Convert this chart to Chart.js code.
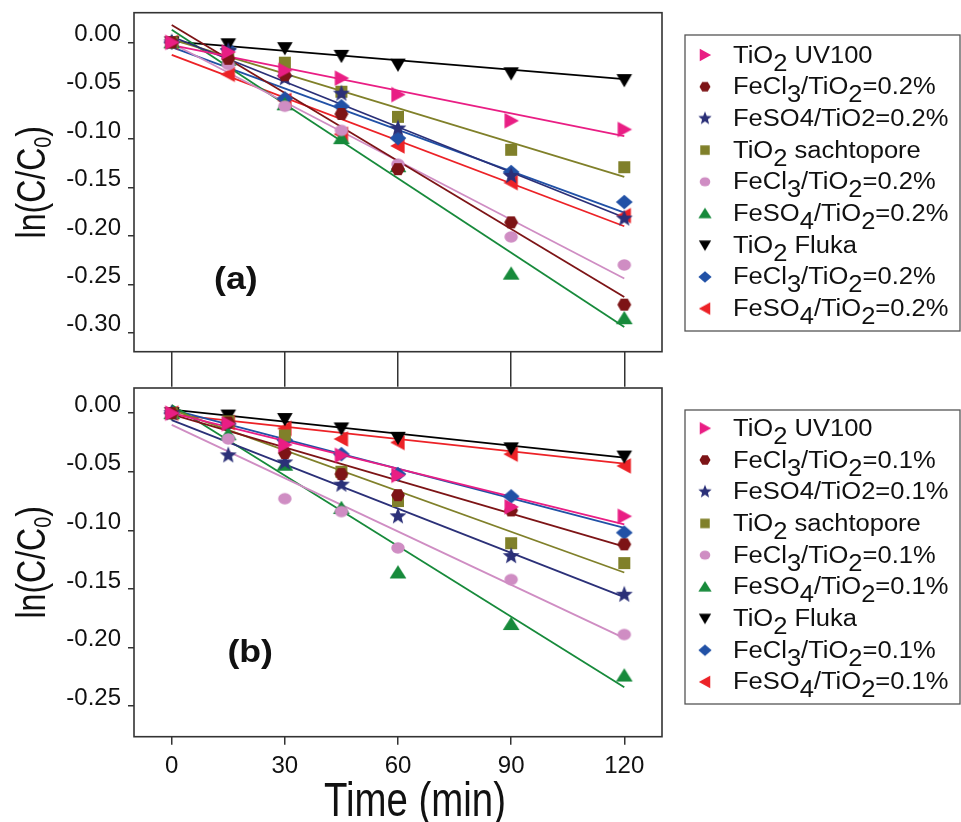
<!DOCTYPE html>
<html>
<head>
<meta charset="utf-8">
<script src="https://cdn.jsdelivr.net/npm/chart.js"></script>
<style>
  html, body { margin: 0; padding: 0; background: #fff; }
  #wrap { position: relative; width: 961px; height: 822px; overflow: hidden; }
  canvas { position: absolute; left: 0; }
  #chartA { top: 0; }
  #chartB { top: 380px; }
</style>
</head>
<body>
<div id="wrap">
  <canvas id="chartA" width="961" height="390"></canvas>
  <canvas id="chartB" width="961" height="442"></canvas>
</div>
<script>
// sampling times (min) and axis ticks
const times = [0, 15, 30, 45, 60, 90, 120];
const xTicks = [0, 30, 60, 90, 120];
const yTicksA = [0, -0.05, -0.10, -0.15, -0.20, -0.25, -0.30];
const yTicksB = [0, -0.05, -0.10, -0.15, -0.20, -0.25];

const labelsA = ['TiO₂ UV100', 'FeCl₃/TiO₂=0.2%', 'FeSO4/TiO2=0.2%', 'TiO₂ sachtopore',
  'FeCl₃/TiO₂=0.2%', 'FeSO₄/TiO₂=0.2%', 'TiO₂ Fluka', 'FeCl₃/TiO₂=0.2%', 'FeSO₄/TiO₂=0.2%'];
const labelsB = ['TiO₂ UV100', 'FeCl₃/TiO₂=0.1%', 'FeSO4/TiO2=0.1%', 'TiO₂ sachtopore',
  'FeCl₃/TiO₂=0.1%', 'FeSO₄/TiO₂=0.1%', 'TiO₂ Fluka', 'FeCl₃/TiO₂=0.1%', 'FeSO₄/TiO₂=0.1%'];

// panel (a) - ln(C/C0) at each time
const uv100A   = [0, -0.010, -0.029, -0.037, -0.054, -0.081, -0.090];
const fecl3A   = [0, -0.017, -0.034, -0.074, -0.131, -0.186, -0.271];
const feso4A   = [0, -0.009, -0.037, -0.053, -0.089, -0.138, -0.182];
const sachA    = [0, -0.012, -0.021, -0.051, -0.077, -0.111, -0.129];
const fecl3A2  = [0, -0.023, -0.066, -0.091, -0.126, -0.201, -0.230];
const feso4A2  = [0, -0.018, -0.064, -0.099, -0.128, -0.239, -0.285];
const flukaA   = [0, -0.002, -0.006, -0.014, -0.023, -0.032, -0.039];
const fecl3A3  = [0, -0.007, -0.058, -0.066, -0.099, -0.134, -0.165];
const feso4A3  = [0, -0.033, -0.060, -0.095, -0.107, -0.145, -0.179];
// linear fits, value at t=0 and t=120
const fitStartA = [-0.003, 0.018, 0.006, 0.003, -0.001, 0.013, 0.001, -0.005, -0.013];
const fitEndA   = [-0.097, -0.263, -0.181, -0.139, -0.244, -0.294, -0.038, -0.176, -0.190];

// panel (b)
const uv100B   = [0, -0.009, -0.027, -0.036, -0.053, -0.080, -0.088];
const fecl3B   = [0, -0.008, -0.034, -0.052, -0.070, -0.083, -0.112];
const feso4B   = [0, -0.036, -0.042, -0.061, -0.088, -0.122, -0.155];
const sachB    = [0, -0.007, -0.019, -0.050, -0.075, -0.111, -0.128];
const fecl3B2  = [0, -0.022, -0.073, -0.084, -0.115, -0.142, -0.189];
const feso4B2  = [0, -0.018, -0.044, -0.081, -0.136, -0.180, -0.224];
const flukaB   = [0, -0.002, -0.005, -0.013, -0.021, -0.030, -0.037];
const fecl3B3  = [0, -0.009, -0.023, -0.035, -0.052, -0.071, -0.102];
const feso4B3  = [0, -0.008, -0.013, -0.022, -0.025, -0.035, -0.045];
const fitStartB = [0.000, -0.001, -0.006, 0.003, -0.010, 0.007, 0.003, 0.003, -0.001];
const fitEndB   = [-0.095, -0.114, -0.157, -0.136, -0.192, -0.234, -0.038, -0.098, -0.043];

const FONT = "'Liberation Sans', Arial, sans-serif";
const colors = ['#e91e84', '#7d1416', '#2b3078', '#80802a', '#cf8dc3', '#178a3b', '#000000', '#2151a6', '#ec2227'];
const shapes = ['right', 'hexagon', 'star', 'square', 'circle', 'up', 'down', 'diamond', 'left'];

function makeMarker(shape, color, s) {
  const c = document.createElement('canvas');
  c.width = 24; c.height = 24;
  const g = c.getContext('2d');
  g.fillStyle = color;
  g.translate(12, 12);
  g.scale(s, s);
  g.beginPath();
  if (shape === 'right') { g.moveTo(-5.5, -6.5); g.lineTo(6.5, 0); g.lineTo(-5.5, 6.5); }
  else if (shape === 'left') { g.moveTo(5.5, -6.5); g.lineTo(-6.5, 0); g.lineTo(5.5, 6.5); }
  else if (shape === 'up') { g.moveTo(-7, 5); g.lineTo(0, -6); g.lineTo(7, 5); }
  else if (shape === 'down') { g.moveTo(-6.5, -5); g.lineTo(6.5, -5); g.lineTo(0, 6); }
  else if (shape === 'square') { g.rect(-5, -5, 10, 10); }
  else if (shape === 'circle') { g.ellipse(0, 0, 5.6, 4.8, 0, 0, Math.PI * 2); }
  else if (shape === 'diamond') { g.moveTo(0, -6); g.lineTo(7, 0); g.lineTo(0, 6); g.lineTo(-7, 0); }
  else if (shape === 'hexagon') {
    for (let k = 0; k < 6; k++) {
      const a = k * Math.PI / 3;
      g.lineTo(5.8 * Math.cos(a), 5.8 * Math.sin(a));
    }
  } else if (shape === 'star') {
    for (let k = 0; k < 10; k++) {
      const r = k % 2 ? 3.2 : 7.4;
      const a = -Math.PI / 2 + k * Math.PI / 5;
      g.lineTo(r * Math.cos(a), r * Math.sin(a));
    }
  }
  g.closePath();
  g.fill();
  return c;
}

function buildDatasets(series, labels, fitStart, fitEnd) {
  const lines = series.map((vals, i) => ({
    label: 'fit', isFit: true,
    data: [{ x: 0, y: fitStart[i] }, { x: 120, y: fitEnd[i] }],
    showLine: true, pointRadius: 0, borderColor: colors[i], borderWidth: 1.8, order: 1
  }));
  const pts = series.map((vals, i) => ({
    label: labels[i],
    data: times.map((t, k) => ({ x: t, y: vals[k] })),
    pointStyle: makeMarker(shapes[i], colors[i], 1.2),
    legendMarker: makeMarker(shapes[i], colors[i], 0.95),
    pointRadius: 7, pointHoverRadius: 7,
    backgroundColor: colors[i], borderColor: colors[i],
    showLine: false, order: 0
  }));
  return lines.concat(pts);
}

// text with subscript digits (unicode ₀..₉) and horizontal squeeze
const SUBS = '₀₁₂₃₄₅₆₇₈₉';
function richRuns(text) {
  const runs = [];
  for (const ch of text) {
    const k = SUBS.indexOf(ch);
    const sub = k >= 0;
    const c = sub ? String(k) : ch;
    if (runs.length && runs[runs.length - 1].sub === sub) runs[runs.length - 1].t += c;
    else runs.push({ t: c, sub });
  }
  return runs;
}
function drawRich(ctx, text, x, y, o) {
  const runs = richRuns(text);
  const main = (o.weight || '') + ' ' + o.size + 'px ' + FONT;
  const subf = (o.weight || '') + ' ' + (o.size * o.subScale) + 'px ' + FONT;
  let w = 0;
  runs.forEach(r => { ctx.font = r.sub ? subf : main; r.w = ctx.measureText(r.t).width; w += r.w; });
  ctx.save();
  ctx.translate(x, y);
  if (o.rotate) ctx.rotate(o.rotate);
  ctx.scale(o.hscale, 1);
  ctx.fillStyle = o.color || '#111';
  ctx.textBaseline = 'alphabetic';
  ctx.textAlign = 'left';
  let cx = o.align === 'center' ? -w / 2 : 0;
  runs.forEach(r => {
    ctx.font = r.sub ? subf : main;
    ctx.fillText(r.t, cx, r.sub ? o.subDrop : 0);
    cx += r.w;
  });
  ctx.restore();
}

const decorPlugin = {
  id: 'decor',
  afterDraw(chart, args, opts) {
    const ctx = chart.ctx;
    const a = chart.chartArea;
    ctx.save();
    ctx.strokeStyle = '#333';
    ctx.lineWidth = 1.6;
    ctx.strokeRect(a.left, a.top, a.right - a.left, a.bottom - a.top);

    // y title
    drawRich(ctx, 'ln(C/C₀)', 45, (a.top + a.bottom) / 2,
      { size: 40, hscale: 0.8, subScale: 0.62, subDrop: 6, align: 'center', rotate: -Math.PI / 2 });
    // x title
    if (opts.xTitle) {
      drawRich(ctx, opts.xTitle.text, opts.xTitle.x, opts.xTitle.y,
        { size: 48, hscale: 0.8, subScale: 1, subDrop: 0, align: 'center' });
    }
    // panel letter
    const px = chart.scales.x.getPixelForValue(opts.panel.x);
    const py = chart.scales.y.getPixelForValue(opts.panel.y);
    drawRich(ctx, opts.panel.text, px, py + 8,
      { size: 31, weight: 'bold', hscale: 1.15, subScale: 1, subDrop: 0, align: 'center' });

    // legend
    const L = opts.legend;
    ctx.strokeStyle = '#555';
    ctx.lineWidth = 1.3;
    ctx.strokeRect(L.left, L.top, L.right - L.left, L.bottom - L.top);
    let row = 0;
    chart.data.datasets.forEach(ds => {
      if (ds.isFit) return;
      const y = L.row0 + row * L.step;
      ctx.drawImage(ds.legendMarker, 705 - 12, y - 12);
      drawRich(ctx, ds.label, 733, y + 7.5,
        { size: 23, hscale: 1.11, subScale: 1, subDrop: 8, align: 'left' });
      row++;
    });
    ctx.restore();
  }
};

function makeOptions(yMin, yMax, yTicks, bottomPanel, xAxisHeight, padTop, decor) {
  return {
    responsive: false,
    animation: false,
    devicePixelRatio: 1,
    layout: { padding: { top: padTop, right: 299, left: 0, bottom: 0 } },
    plugins: { legend: { display: false }, tooltip: { enabled: false }, decor: decor },
    scales: {
      x: {
        type: 'linear', min: -10, max: 130,
        afterBuildTicks: s => { s.ticks = xTicks.map(v => ({ value: v })); },
        afterFit: s => { s.height = xAxisHeight; s.paddingLeft = 0; s.paddingRight = 0; },
        grid: { drawOnChartArea: false, drawTicks: true, tickLength: bottomPanel ? 8 : 35, color: '#333', lineWidth: 1.5 },
        border: { display: false },
        ticks: { display: bottomPanel, font: { family: FONT, size: 24 }, color: '#111', padding: 7, maxRotation: 0, autoSkip: false }
      },
      y: {
        type: 'linear', min: yMin, max: yMax,
        afterBuildTicks: s => { s.ticks = yTicks.map(v => ({ value: v })); },
        afterFit: s => { s.width = 134; s.paddingTop = 0; s.paddingBottom = 0; },
        grid: { drawOnChartArea: false, drawTicks: true, tickLength: 6, color: '#333', lineWidth: 1.5 },
        border: { display: false },
        ticks: {
          font: { family: FONT, size: 24 }, color: '#111', padding: 7, labelOffset: -8,
          callback: v => v.toFixed(2)
        }
      }
    }
  };
}

new Chart(document.getElementById('chartA'), {
  type: 'scatter',
  data: { datasets: buildDatasets([uv100A, fecl3A, feso4A, sachA, fecl3A2, feso4A2, flukaA, fecl3A3, feso4A3], labelsA, fitStartA, fitEndA) },
  options: makeOptions(-0.3196, 0.0306, yTicksA, false, 38.3, 12.7, {
    panel: { text: '(a)', x: 17, y: -0.247 },
    legend: { left: 685, top: 35, right: 960, bottom: 331, row0: 55, step: 31.7 }
  }),
  plugins: [decorPlugin]
});

new Chart(document.getElementById('chartB'), {
  type: 'scatter',
  data: { datasets: buildDatasets([uv100B, fecl3B, feso4B, sachB, fecl3B2, feso4B2, flukaB, fecl3B3, feso4B3], labelsB, fitStartB, fitEndB) },
  options: makeOptions(-0.2762, 0.0215, yTicksB, true, 85.3, 7.3, {
    panel: { text: '(b)', x: 20.8, y: -0.206 },
    xTitle: { text: 'Time (min)', x: 415, y: 436 },
    legend: { left: 685, top: 30, right: 960, bottom: 324, row0: 48.3, step: 31.7 }
  }),
  plugins: [decorPlugin]
});
</script>
</body>
</html>
